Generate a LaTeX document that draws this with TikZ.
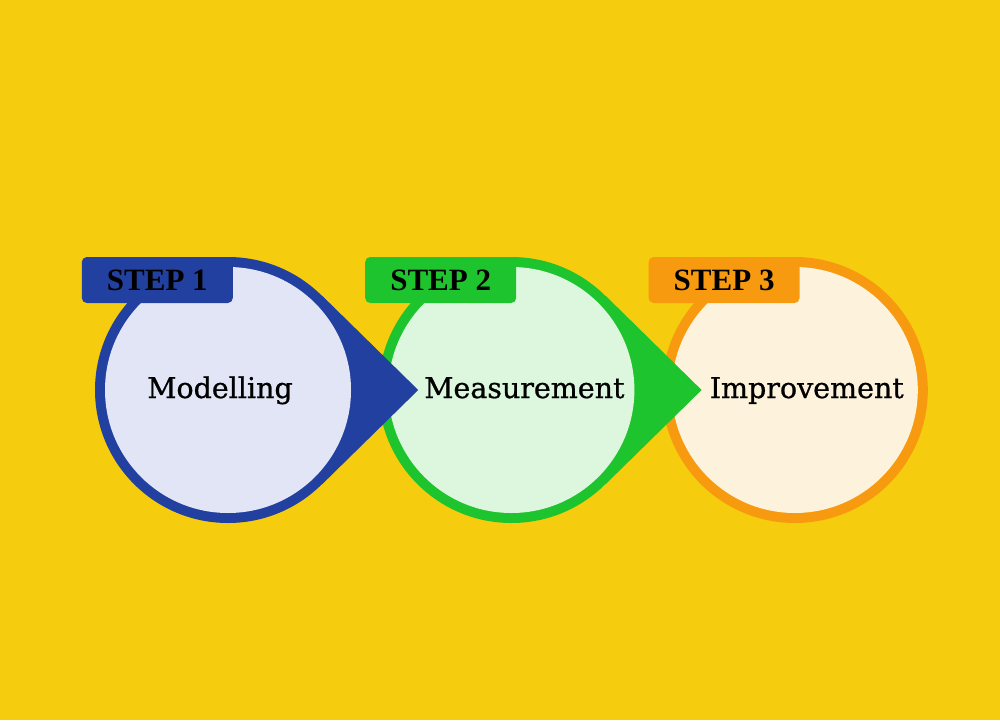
\documentclass[tikz,border=0pt]{standalone}
\usepackage{fontspec}
\usepackage{tikz}
\usetikzlibrary{positioning,calc}
\newfontfamily\stagefont[FakeBold=0.8]{DejaVu Serif}
\newfontfamily\tagfont{Liberation Serif}
\definecolor{bgyellow}{RGB}{245,204,14}
\definecolor{stepblue}{RGB}{33,64,160}
\definecolor{stepgreen}{RGB}{30,196,46}
\definecolor{steporange}{RGB}{247,154,15}
\definecolor{blueface}{RGB}{226,229,245}
\definecolor{greenface}{RGB}{220,247,222}
\definecolor{orangeface}{RGB}{253,243,220}
\tikzset{
  ring/.style={
    circle,
    fill=#1,
    minimum size=266pt,
    inner sep=0pt
  },
  disc/.style={
    circle,
    fill=#1,
    minimum size=246pt,
    inner sep=0pt
  },
  steptag/.style={
    fill=#1,
    rounded corners=5pt,
    minimum width=151pt,
    minimum height=46pt,
    inner sep=0pt,
    anchor=north east,
    font=\tagfont\bfseries\fontsize{31}{36}\selectfont
  },
  stagetext/.style={
    anchor=base,
    inner sep=0pt,
    font=\stagefont\fontsize{28.5}{34}\selectfont
  }
}

\begin{document}
\begin{tikzpicture}[x=1pt, y=-1pt, node distance=17pt]

  % Background
  \fill[bgyellow] (0,0) rectangle (1000,720);
  \useasboundingbox (0,0) rectangle (1000,720);

  % Rings in a line
  \node[ring=stepblue] (r1) at (228,390) {};
  \node[ring=stepgreen, right=of r1] (r2) {};
  \node[ring=steporange, right=of r2] (r3) {};

  % Pointer tips
  \coordinate[right=57pt of r1.east] (tip1);
  \coordinate[right=57pt of r2.east] (tip2);

  % Step 3
  \node[disc=orangeface] (d3) at (r3.center) {};

  % Step 2
  \fill[stepgreen] (r2.center) -- (r2.45.6) -- (tip2) -- (r2.-45.6) -- cycle;
  \node[disc=greenface] (d2) at (r2.center) {};

  % Step 1
  \fill[stepblue] (r1.center) -- (r1.45.6) -- (tip1) -- (r1.-45.6) -- cycle;
  \node[disc=blueface] (d1) at (r1.center) {};

  % Stage names
  \node[stagetext] (m1) at ([xshift=-8pt, yshift=-8pt]d1.center) {Modelling};
  \node[stagetext] (m2) at ([xshift=13pt, yshift=-8pt]d2.center) {Measurement};
  \node[stagetext] (m3) at ([xshift=12pt, yshift=-8pt]d3.center) {Improvement};

  % Step tags
  \node[steptag=stepblue] (t1) at ([xshift=5pt]r1.north) {STEP 1};
  \node[steptag=stepgreen] (t2) at ([xshift=5pt]r2.north) {STEP 2};
  \node[steptag=steporange] (t3) at ([xshift=5pt]r3.north) {STEP 3};

\end{tikzpicture}
\end{document}
